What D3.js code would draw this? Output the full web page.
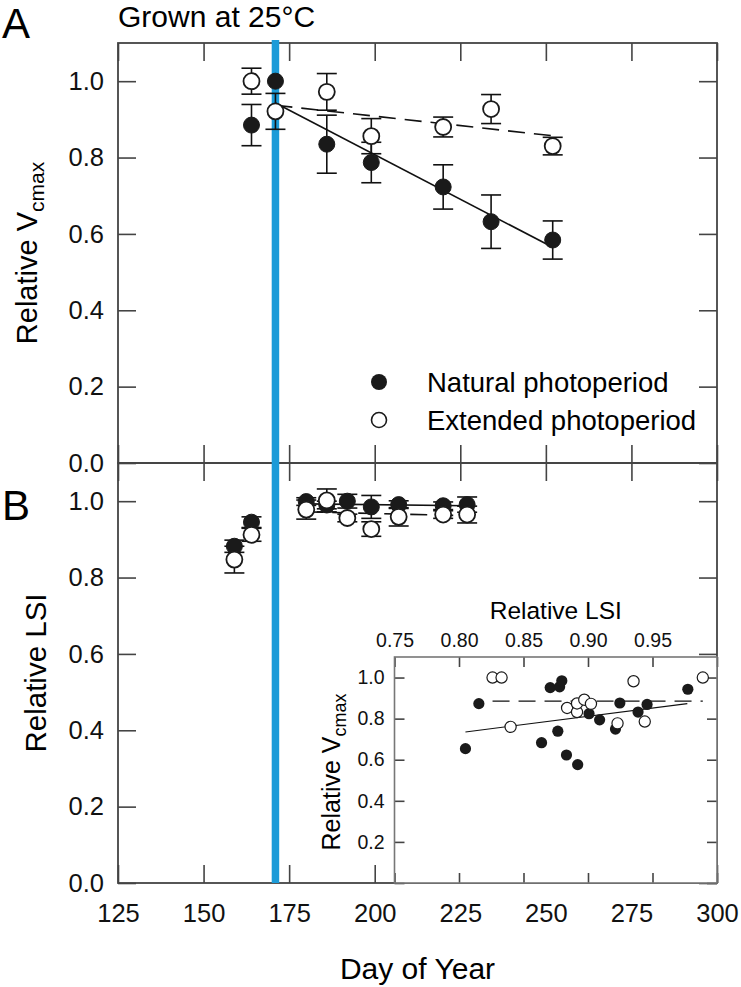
<!DOCTYPE html>
<html><head><meta charset="utf-8">
<script src="https://cdn.jsdelivr.net/npm/d3@7"></script>
<style>
html,body{margin:0;padding:0;background:#fff;}
svg{display:block;font-family:"Liberation Sans",Arial,Helvetica,sans-serif;}
</style></head>
<body>
<svg id="chart" width="741" height="987"></svg>
<script>
// ---------- data ----------
const daysA = [164, 171, 186, 199, 220, 234, 252];
const naturalA = [0.885, 1.0, 0.835, 0.787, 0.723, 0.632, 0.584];
const naturalAse = [0.054, 0, 0.076, 0.053, 0.058, 0.07, 0.05];
const extendedA = [1.0, 0.921, 0.972, 0.856, 0.880, 0.927, 0.83];
const extendedAse = [0.034, 0.047, 0.048, 0.046, 0.026, 0.038, 0.023];
const naturalFitA = [[171, 0.943], [252, 0.565]];
const extendedFitA = [[171, 0.937], [252, 0.857]];

const daysB = [159, 164, 180, 186, 192, 199, 207, 220, 227];
const naturalB = [0.882, 0.945, 0.999, 0.99, 1.0, 0.985, 0.991, 0.988, 0.991];
const naturalBse = [0.016, 0.014, 0.01, 0.01, 0.018, 0.03, 0.01, 0.01, 0.02];
const extendedB = [0.847, 0.912, 0.978, 1.002, 0.956, 0.927, 0.959, 0.965, 0.965];
const extendedBse = [0.035, 0.017, 0.025, 0.03, 0.01, 0.019, 0.024, 0.01, 0.022];
const naturalFitB = [[180, 0.993], [227, 0.988]];
const extendedFitB = [[180, 0.972], [227, 0.962]];

const transferDay = 171;

const insetNatLSI  = [0.805, 0.8154, 0.8707, 0.878, 0.8797, 0.864, 0.8766, 0.8833, 0.892, 0.9008, 0.909, 0.9213, 0.9247, 0.9388, 0.9458, 0.9774];
const insetNatVc   = [0.654, 0.873, 0.951, 0.955, 0.984, 0.683, 0.739, 0.623, 0.576, 0.824, 0.794, 0.749, 0.876, 0.832, 0.869, 0.943];
const insetExtLSI  = [0.826, 0.833, 0.840, 0.8838, 0.8915, 0.8915, 0.8971, 0.9023, 0.9229, 0.9353, 0.944, 0.989];
const insetExtVc   = [1.0, 1.0, 0.760, 0.852, 0.832, 0.874, 0.892, 0.872, 0.777, 0.982, 0.786, 1.0];
const insetNatFit = [[0.805, 0.735], [0.977, 0.873]];
const insetExtFit = [[0.826, 0.885], [0.989, 0.885]];

const dayTicks = [125, 150, 175, 200, 225, 250, 275, 300];
const relTicks = [0, 0.2, 0.4, 0.6, 0.8, 1.0];
const lsiTicks = [0.75, 0.80, 0.85, 0.90, 0.95, 1.0];
const lsiLabelTicks = [0.75, 0.80, 0.85, 0.90, 0.95];
const insetYTicks = [0, 0.2, 0.4, 0.6, 0.8, 1.0];
const insetYLabelTicks = [0.2, 0.4, 0.6, 0.8, 1.0];

// ---------- scales ----------
const L = 118, R = 717;
const x = d3.scaleLinear().domain([125, 300]).range([L, R]);
const yA = d3.scaleLinear().domain([0, 1.1]).range([463, 43]);
const yB = d3.scaleLinear().domain([0, 1.1]).range([883, 463]);
const xi = d3.scaleLinear().domain([0.75, 1.0]).range([394.5, R]);
const yi = d3.scaleLinear().domain([0, 1.1]).range([883, 657]);

const svg = d3.select("#chart");
const axisColor = "#444";
const f1 = d3.format(".1f"), f2 = d3.format(".2f");

function styleAxis(g, fs) {
  g.select(".domain").remove();
  g.selectAll(".tick line").attr("stroke", axisColor).attr("stroke-width", 1.6);
  g.selectAll(".tick text").attr("fill", "#111").attr("font-size", fs)
    .attr("font-family", "Liberation Sans, Arial, sans-serif");
}

// ---------- panel frames & axes ----------
function panel(y, top, bottom, showX) {
  svg.append("g").attr("transform", `translate(${L},0)`)
    .call(d3.axisLeft(y).tickValues(relTicks).tickFormat(f1).tickSizeInner(-18).tickSizeOuter(0).tickPadding(14))
    .call(g => styleAxis(g, 25.5));
  svg.append("g").attr("transform", `translate(${R},0)`)
    .call(d3.axisRight(y).tickValues(relTicks).tickFormat("").tickSizeInner(-18).tickSizeOuter(0))
    .call(g => styleAxis(g, 25.5));
  svg.append("g").attr("transform", `translate(0,${top})`)
    .call(d3.axisTop(x).tickValues(dayTicks).tickFormat("").tickSizeInner(-18).tickSizeOuter(0))
    .call(g => styleAxis(g, 25.5));
  svg.append("g").attr("transform", `translate(0,${bottom})`)
    .call(d3.axisBottom(x).tickValues(dayTicks).tickFormat(showX ? d3.format("d") : "").tickSizeInner(-18).tickSizeOuter(0).tickPadding(21))
    .call(g => styleAxis(g, 25.5));
  svg.append("rect").attr("x", L).attr("y", top).attr("width", R - L).attr("height", bottom - top)
    .attr("fill", "none").attr("stroke", axisColor).attr("stroke-width", 1.8);
}
panel(yA, 43, 463, false);
panel(yB, 463, 883, true);

// ---------- marks ----------
function errorBars(g, days, vals, se, y) {
  days.forEach((d, i) => {
    if (!se[i]) return;
    const cx = x(d), y1 = y(vals[i] - se[i]), y2 = y(vals[i] + se[i]);
    g.append("line").attr("x1", cx).attr("x2", cx).attr("y1", y1).attr("y2", y2);
    g.append("line").attr("x1", cx - 10).attr("x2", cx + 10).attr("y1", y1).attr("y2", y1);
    g.append("line").attr("x1", cx - 10).attr("x2", cx + 10).attr("y1", y2).attr("y2", y2);
  });
}
function fitLine(g, pts, xs, y, dashed, w) {
  return g.append("path").datum(pts)
    .attr("d", d3.line().x(p => xs(p[0])).y(p => y(p[1])))
    .attr("fill", "none").attr("stroke", "#111").attr("stroke-width", w || 1.6)
    .attr("stroke-dasharray", dashed ? "17,9" : null);
}

// blue transfer line
svg.append("line").attr("x1", x(transferDay)).attr("x2", x(transferDay))
  .attr("y1", 40).attr("y2", 883).attr("stroke", "#1b9bd8").attr("stroke-width", 7.5);

function drawPanel(y, days, nat, natSe, ext, extSe, natFit, extFit) {
  const g = svg.append("g");
  fitLine(g, natFit, x, y, false);
  fitLine(g, extFit, x, y, true);
  const eb = g.append("g").attr("stroke", "#111").attr("stroke-width", 1.6);
  errorBars(eb, days, nat, natSe, y);
  errorBars(eb, days, ext, extSe, y);
  g.selectAll(null).data(days).enter().append("circle")
    .attr("cx", d => x(d)).attr("cy", (d, i) => y(nat[i])).attr("r", 8)
    .attr("fill", "#1a1a1a").attr("stroke", "#1a1a1a").attr("stroke-width", 1);
  g.selectAll(null).data(days).enter().append("circle")
    .attr("cx", d => x(d)).attr("cy", (d, i) => y(ext[i])).attr("r", 8)
    .attr("fill", "#fff").attr("stroke", "#1a1a1a").attr("stroke-width", 1.8);
}
drawPanel(yA, daysA, naturalA, naturalAse, extendedA, extendedAse, naturalFitA, extendedFitA);
drawPanel(yB, daysB, naturalB, naturalBse, extendedB, extendedBse, naturalFitB, extendedFitB);

// ---------- legend ----------
const leg = svg.append("g");
leg.append("circle").attr("cx", 379).attr("cy", 382).attr("r", 8).attr("fill", "#1a1a1a");
leg.append("circle").attr("cx", 379).attr("cy", 420).attr("r", 7.5).attr("fill", "#fff").attr("stroke", "#1a1a1a").attr("stroke-width", 1.6);
leg.append("text").attr("x", 427).attr("y", 392).attr("font-size", 27.5).text("Natural photoperiod");
leg.append("text").attr("x", 427).attr("y", 430).attr("font-size", 27.5).text("Extended photoperiod");

// ---------- inset ----------
const ins = svg.append("g");
ins.append("rect").attr("x", xi.range()[0]).attr("y", yi.range()[1])
  .attr("width", xi.range()[1] - xi.range()[0]).attr("height", yi.range()[0] - yi.range()[1])
  .attr("fill", "#fff");
ins.append("g").attr("transform", `translate(0,${yi.range()[1]})`)
  .call(d3.axisTop(xi).tickValues(lsiTicks).tickFormat(d => lsiLabelTicks.includes(d) ? f2(d) : "").tickSizeInner(-10).tickSizeOuter(0).tickPadding(10))
  .call(g => styleAxis(g, 19.5));
ins.append("g").attr("transform", `translate(0,${yi.range()[0]})`)
  .call(d3.axisBottom(xi).tickValues(lsiTicks).tickFormat("").tickSizeInner(-10).tickSizeOuter(0))
  .call(g => styleAxis(g, 19.5));
ins.append("g").attr("transform", `translate(${xi.range()[0]},0)`)
  .call(d3.axisLeft(yi).tickValues(insetYTicks).tickFormat(d => insetYLabelTicks.includes(d) ? f1(d) : "").tickSizeInner(-10).tickSizeOuter(0).tickPadding(10))
  .call(g => styleAxis(g, 19.5));
ins.append("g").attr("transform", `translate(${xi.range()[1]},0)`)
  .call(d3.axisRight(yi).tickValues(insetYTicks).tickFormat("").tickSizeInner(-10).tickSizeOuter(0))
  .call(g => styleAxis(g, 19.5));
ins.append("rect").attr("x", xi.range()[0]).attr("y", yi.range()[1])
  .attr("width", xi.range()[1] - xi.range()[0]).attr("height", yi.range()[0] - yi.range()[1])
  .attr("fill", "none").attr("stroke", "#777").attr("stroke-width", 1.6);
fitLine(ins, insetNatFit, xi, yi, false, 1.1);
fitLine(ins, insetExtFit, xi, yi, true, 1.3);
ins.selectAll(null).data(insetNatLSI).enter().append("circle")
  .attr("cx", d => xi(d)).attr("cy", (d, i) => yi(insetNatVc[i])).attr("r", 5.6).attr("fill", "#1a1a1a");
ins.selectAll(null).data(insetExtLSI).enter().append("circle")
  .attr("cx", d => xi(d)).attr("cy", (d, i) => yi(insetExtVc[i])).attr("r", 5.6)
  .attr("fill", "#fff").attr("stroke", "#1a1a1a").attr("stroke-width", 1.2);
ins.append("text").attr("x", (xi.range()[0] + xi.range()[1]) / 2).attr("y", 619)
  .attr("text-anchor", "middle").attr("font-size", 24.5).text("Relative LSI");
const iyl = ins.append("text").attr("transform", "translate(340,772) rotate(-90)")
  .attr("text-anchor", "middle").attr("font-size", 25);
iyl.append("tspan").text("Relative V");
iyl.append("tspan").attr("font-size", 18).attr("dy", 6).text("cmax");

// ---------- labels ----------
svg.append("text").attr("x", 2).attr("y", 38).attr("font-size", 42).text("A");
svg.append("text").attr("x", 2).attr("y", 520).attr("font-size", 42).text("B");
svg.append("text").attr("x", 118).attr("y", 27).attr("font-size", 30).text("Grown at 25°C");
svg.append("text").attr("x", (L + R) / 2).attr("y", 979).attr("text-anchor", "middle")
  .attr("font-size", 30).text("Day of Year");
const ylA = svg.append("text").attr("transform", "translate(37,253) rotate(-90)")
  .attr("text-anchor", "middle").attr("font-size", 29);
ylA.append("tspan").text("Relative V");
ylA.append("tspan").attr("font-size", 21).attr("dy", 7).text("cmax");
svg.append("text").attr("transform", "translate(46,673) rotate(-90)")
  .attr("text-anchor", "middle").attr("font-size", 29.5).text("Relative LSI");
</script>
</body></html>
